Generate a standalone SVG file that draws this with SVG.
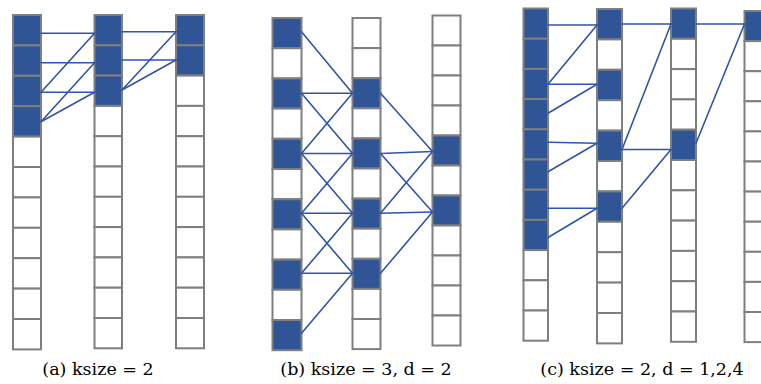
<svg xmlns="http://www.w3.org/2000/svg" width="761" height="384" viewBox="0 0 761 384">
  <style>
    .c { fill: #ffffff; stroke: #7f7f7f; stroke-width: 2; }
    .b { fill: #2f5597; stroke: #7f7f7f; stroke-width: 2; }
    .lk line { stroke: #2f55a4; stroke-width: 1.6; stroke-linecap: round; }
    .cap { font-family: "DejaVu Serif", serif; font-size: 17.5px; fill: #000; text-anchor: middle; }
  </style>
  <rect width="761" height="384" fill="#ffffff"/>

  <!-- Panel (a): ksize = 2 -->
  <g id="a-layer0">
    <rect class="b" x="13" y="15" width="28" height="30.4"/>
    <rect class="b" x="13" y="45.4" width="28" height="30.4"/>
    <rect class="b" x="13" y="75.8" width="28" height="30.4"/>
    <rect class="b" x="13" y="106.2" width="28" height="30.4"/>
    <rect class="c" x="13" y="136.6" width="28" height="30.4"/>
    <rect class="c" x="13" y="167" width="28" height="30.4"/>
    <rect class="c" x="13" y="197.4" width="28" height="30.4"/>
    <rect class="c" x="13" y="227.8" width="28" height="30.4"/>
    <rect class="c" x="13" y="258.2" width="28" height="30.4"/>
    <rect class="c" x="13" y="288.6" width="28" height="30.4"/>
    <rect class="c" x="13" y="319" width="28" height="30.4"/>
  </g>
  <g id="a-layer1">
    <rect class="b" x="94.5" y="15" width="27.5" height="30.3"/>
    <rect class="b" x="94.5" y="45.3" width="27.5" height="30.3"/>
    <rect class="b" x="94.5" y="75.6" width="27.5" height="30.3"/>
    <rect class="c" x="94.5" y="105.9" width="27.5" height="30.3"/>
    <rect class="c" x="94.5" y="136.2" width="27.5" height="30.3"/>
    <rect class="c" x="94.5" y="166.5" width="27.5" height="30.3"/>
    <rect class="c" x="94.5" y="196.8" width="27.5" height="30.3"/>
    <rect class="c" x="94.5" y="227.1" width="27.5" height="30.3"/>
    <rect class="c" x="94.5" y="257.4" width="27.5" height="30.3"/>
    <rect class="c" x="94.5" y="287.7" width="27.5" height="30.3"/>
    <rect class="c" x="94.5" y="318" width="27.5" height="30.3"/>
  </g>
  <g id="a-layer2">
    <rect class="b" x="176" y="15" width="28" height="30.3"/>
    <rect class="b" x="176" y="45.3" width="28" height="30.3"/>
    <rect class="c" x="176" y="75.6" width="28" height="30.3"/>
    <rect class="c" x="176" y="105.9" width="28" height="30.3"/>
    <rect class="c" x="176" y="136.2" width="28" height="30.3"/>
    <rect class="c" x="176" y="166.5" width="28" height="30.3"/>
    <rect class="c" x="176" y="196.8" width="28" height="30.3"/>
    <rect class="c" x="176" y="227.1" width="28" height="30.3"/>
    <rect class="c" x="176" y="257.4" width="28" height="30.3"/>
    <rect class="c" x="176" y="287.7" width="28" height="30.3"/>
    <rect class="c" x="176" y="318" width="28" height="30.3"/>
  </g>

  <!-- Panel (b): ksize = 3, d = 2 -->
  <g id="b-layer0">
    <rect class="b" x="272.5" y="18" width="29" height="30.2"/>
    <rect class="c" x="272.5" y="48.2" width="29" height="30.2"/>
    <rect class="b" x="272.5" y="78.4" width="29" height="30.2"/>
    <rect class="c" x="272.5" y="108.6" width="29" height="30.2"/>
    <rect class="b" x="272.5" y="138.8" width="29" height="30.2"/>
    <rect class="c" x="272.5" y="169" width="29" height="30.2"/>
    <rect class="b" x="272.5" y="199.2" width="29" height="30.2"/>
    <rect class="c" x="272.5" y="229.4" width="29" height="30.2"/>
    <rect class="b" x="272.5" y="259.6" width="29" height="30.2"/>
    <rect class="c" x="272.5" y="289.8" width="29" height="30.2"/>
    <rect class="b" x="272.5" y="320" width="29" height="30.2"/>
  </g>
  <g id="b-layer1">
    <rect class="c" x="352.5" y="18" width="28" height="30.1"/>
    <rect class="c" x="352.5" y="48.1" width="28" height="30.1"/>
    <rect class="b" x="352.5" y="78.2" width="28" height="30.1"/>
    <rect class="c" x="352.5" y="108.3" width="28" height="30.1"/>
    <rect class="b" x="352.5" y="138.4" width="28" height="30.1"/>
    <rect class="c" x="352.5" y="168.5" width="28" height="30.1"/>
    <rect class="b" x="352.5" y="198.6" width="28" height="30.1"/>
    <rect class="c" x="352.5" y="228.7" width="28" height="30.1"/>
    <rect class="b" x="352.5" y="258.8" width="28" height="30.1"/>
    <rect class="c" x="352.5" y="288.9" width="28" height="30.1"/>
    <rect class="c" x="352.5" y="319" width="28" height="30.1"/>
  </g>
  <g id="b-layer2">
    <rect class="c" x="432.5" y="15.5" width="28" height="30"/>
    <rect class="c" x="432.5" y="45.5" width="28" height="30"/>
    <rect class="c" x="432.5" y="75.5" width="28" height="30"/>
    <rect class="c" x="432.5" y="105.5" width="28" height="30"/>
    <rect class="b" x="432.5" y="135.5" width="28" height="30"/>
    <rect class="c" x="432.5" y="165.5" width="28" height="30"/>
    <rect class="b" x="432.5" y="195.5" width="28" height="30"/>
    <rect class="c" x="432.5" y="225.5" width="28" height="30"/>
    <rect class="c" x="432.5" y="255.5" width="28" height="30"/>
    <rect class="c" x="432.5" y="285.5" width="28" height="30"/>
    <rect class="c" x="432.5" y="315.5" width="28" height="30"/>
  </g>

  <!-- Panel (c): ksize = 2, d = 1,2,4 -->
  <g id="c-layer0">
    <rect class="b" x="523.5" y="8.5" width="24.5" height="30.2"/>
    <rect class="b" x="523.5" y="38.7" width="24.5" height="30.2"/>
    <rect class="b" x="523.5" y="68.9" width="24.5" height="30.2"/>
    <rect class="b" x="523.5" y="99.1" width="24.5" height="30.2"/>
    <rect class="b" x="523.5" y="129.3" width="24.5" height="30.2"/>
    <rect class="b" x="523.5" y="159.5" width="24.5" height="30.2"/>
    <rect class="b" x="523.5" y="189.7" width="24.5" height="30.2"/>
    <rect class="b" x="523.5" y="219.9" width="24.5" height="30.2"/>
    <rect class="c" x="523.5" y="250.1" width="24.5" height="30.2"/>
    <rect class="c" x="523.5" y="280.3" width="24.5" height="30.2"/>
    <rect class="c" x="523.5" y="310.5" width="24.5" height="30.2"/>
  </g>
  <g id="c-layer1">
    <rect class="b" x="597" y="9" width="25" height="30.4"/>
    <rect class="c" x="597" y="39.4" width="25" height="30.4"/>
    <rect class="b" x="597" y="69.8" width="25" height="30.4"/>
    <rect class="c" x="597" y="100.2" width="25" height="30.4"/>
    <rect class="b" x="597" y="130.6" width="25" height="30.4"/>
    <rect class="c" x="597" y="161" width="25" height="30.4"/>
    <rect class="b" x="597" y="191.4" width="25" height="30.4"/>
    <rect class="c" x="597" y="221.8" width="25" height="30.4"/>
    <rect class="c" x="597" y="252.2" width="25" height="30.4"/>
    <rect class="c" x="597" y="282.6" width="25" height="30.4"/>
    <rect class="c" x="597" y="313" width="25" height="30.4"/>
  </g>
  <g id="c-layer2">
    <rect class="b" x="671" y="8.5" width="25" height="30.3"/>
    <rect class="c" x="671" y="38.8" width="25" height="30.3"/>
    <rect class="c" x="671" y="69.1" width="25" height="30.3"/>
    <rect class="c" x="671" y="99.4" width="25" height="30.3"/>
    <rect class="b" x="671" y="129.7" width="25" height="30.3"/>
    <rect class="c" x="671" y="160" width="25" height="30.3"/>
    <rect class="c" x="671" y="190.3" width="25" height="30.3"/>
    <rect class="c" x="671" y="220.6" width="25" height="30.3"/>
    <rect class="c" x="671" y="250.9" width="25" height="30.3"/>
    <rect class="c" x="671" y="281.2" width="25" height="30.3"/>
    <rect class="c" x="671" y="311.5" width="25" height="30.3"/>
  </g>
  <g id="c-layer3">
    <rect class="b" x="744.5" y="11" width="25" height="30.1"/>
    <rect class="c" x="744.5" y="41.1" width="25" height="30.1"/>
    <rect class="c" x="744.5" y="71.2" width="25" height="30.1"/>
    <rect class="c" x="744.5" y="101.3" width="25" height="30.1"/>
    <rect class="c" x="744.5" y="131.4" width="25" height="30.1"/>
    <rect class="c" x="744.5" y="161.5" width="25" height="30.1"/>
    <rect class="c" x="744.5" y="191.6" width="25" height="30.1"/>
    <rect class="c" x="744.5" y="221.7" width="25" height="30.1"/>
    <rect class="c" x="744.5" y="251.8" width="25" height="30.1"/>
    <rect class="c" x="744.5" y="281.9" width="25" height="30.1"/>
    <rect class="c" x="744.5" y="312" width="25" height="30.1"/>
  </g>

  <!-- Connections between layers -->
  <g id="links" class="lk">
    <!-- (a) layer0 -> layer1 -->
    <line x1="41" y1="33.3" x2="94.5" y2="33.3"/>
    <line x1="41" y1="62.7" x2="94.5" y2="62.7"/>
    <line x1="41" y1="92.3" x2="94.5" y2="92.3"/>
    <line x1="94.5" y1="33.3" x2="41" y2="92.3"/>
    <line x1="94.5" y1="62.7" x2="41" y2="121.7"/>
    <line x1="94.5" y1="92.3" x2="41" y2="121.7"/>
    <!-- (a) layer1 -> layer2 -->
    <line x1="122" y1="31.7" x2="176" y2="31.7"/>
    <line x1="122" y1="60" x2="176" y2="60"/>
    <line x1="176" y1="31.7" x2="122" y2="90"/>
    <line x1="176" y1="60" x2="122" y2="90"/>

    <!-- (b) layer0 -> layer1 -->
    <line x1="301.5" y1="31.7" x2="352.5" y2="93.3"/>
    <line x1="301.5" y1="93.3" x2="352.5" y2="93.3"/>
    <line x1="301.5" y1="153.5" x2="352.5" y2="93.3"/>
    <line x1="301.5" y1="93.3" x2="352.5" y2="153.5"/>
    <line x1="301.5" y1="153.5" x2="352.5" y2="153.5"/>
    <line x1="301.5" y1="213.3" x2="352.5" y2="153.5"/>
    <line x1="301.5" y1="153.5" x2="352.5" y2="213.3"/>
    <line x1="301.5" y1="213.3" x2="352.5" y2="213.3"/>
    <line x1="301.5" y1="273.3" x2="352.5" y2="213.3"/>
    <line x1="301.5" y1="213.3" x2="352.5" y2="273.3"/>
    <line x1="301.5" y1="273.3" x2="352.5" y2="273.3"/>
    <line x1="301.5" y1="333.3" x2="352.5" y2="273.3"/>
    <!-- (b) layer1 -> layer2 -->
    <line x1="380.5" y1="93.3" x2="432.5" y2="151.5"/>
    <line x1="380.5" y1="153.5" x2="432.5" y2="151.5"/>
    <line x1="380.5" y1="213.3" x2="432.5" y2="151.5"/>
    <line x1="380.5" y1="153.5" x2="432.5" y2="212"/>
    <line x1="380.5" y1="213.3" x2="432.5" y2="212"/>
    <line x1="380.5" y1="273.3" x2="432.5" y2="212"/>

    <!-- (c) layer0 -> layer1 -->
    <line x1="548" y1="25" x2="597" y2="25"/>
    <line x1="597" y1="25" x2="548" y2="84.3"/>
    <line x1="548" y1="84.3" x2="597" y2="84.3"/>
    <line x1="597" y1="84.3" x2="548" y2="113.3"/>
    <line x1="548" y1="142.3" x2="597" y2="143.3"/>
    <line x1="597" y1="143.3" x2="548" y2="171.7"/>
    <line x1="548" y1="208.3" x2="597" y2="208.3"/>
    <line x1="597" y1="208.3" x2="548" y2="237.5"/>
    <!-- (c) layer1 -> layer2 -->
    <line x1="622" y1="24" x2="671" y2="24"/>
    <line x1="671" y1="24" x2="622" y2="149.5"/>
    <line x1="622" y1="149.5" x2="671" y2="149.5"/>
    <line x1="671" y1="149.5" x2="622" y2="208.3"/>
    <!-- (c) layer2 -> layer3 -->
    <line x1="696" y1="24" x2="744.5" y2="24"/>
    <line x1="744.5" y1="24" x2="696" y2="143.3"/>
  </g>

  <!-- Captions -->
  <text class="cap" x="98" y="375">(a) ksize = 2</text>
  <text class="cap" x="366" y="375">(b) ksize = 3, d = 2</text>
  <text class="cap" x="642" y="375">(c) ksize = 2, d = 1,2,4</text>
</svg>
